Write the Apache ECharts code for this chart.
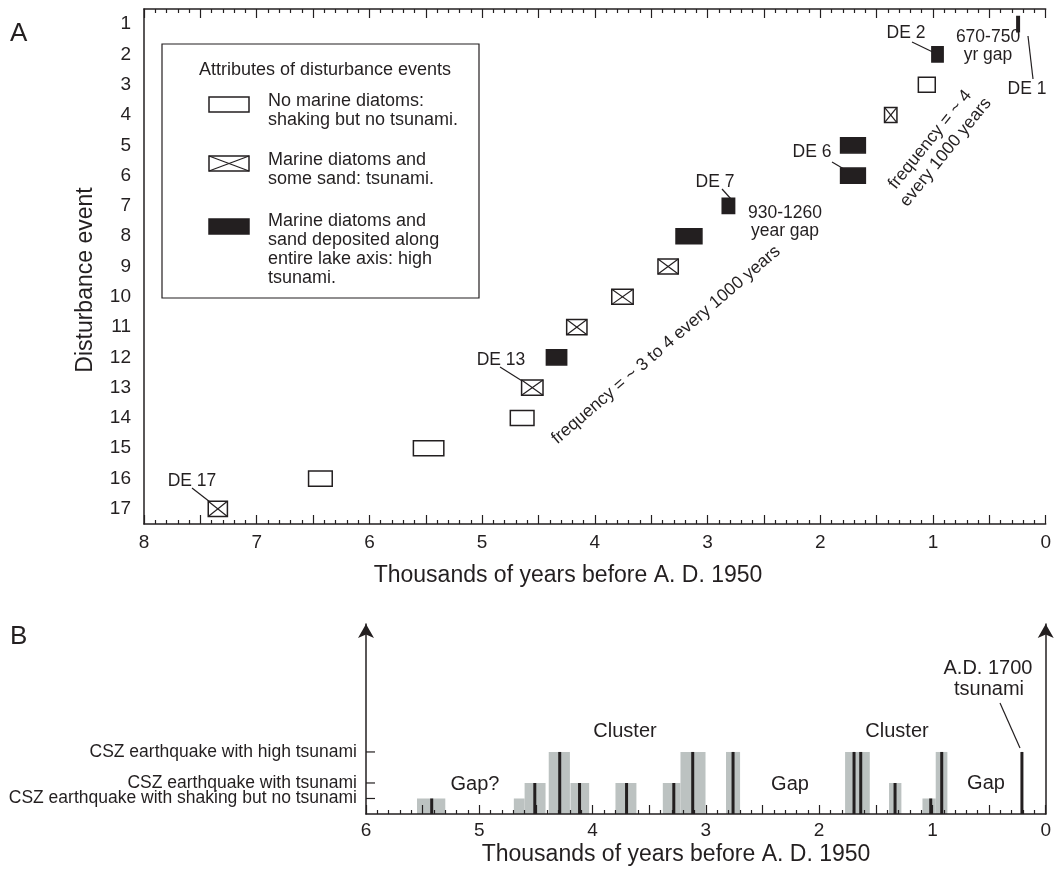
<!DOCTYPE html>
<html><head><meta charset="utf-8">
<script src="https://cdn.jsdelivr.net/npm/echarts@6/dist/echarts.min.js"></script>
<style>html,body{margin:0;padding:0;background:#fff}#c{width:1054px;height:870px}</style>
</head><body><div id="c"></div>
<script>
const FONT = '"Liberation Sans", Arial, Helvetica, sans-serif';
const INK = '#231f20';
const GRAY = '#bcc2c1';

// ---------- Panel A data ----------
const eventNumbers = [1,2,3,4,5,6,7,8,9,10,11,12,13,14,15,16,17];
const eventAgeStart = [0.234,0.91,0.98,1.32,1.60,1.60,2.76,3.05,3.26,3.66,4.07,4.25,4.46,4.54,5.34,6.33,7.26];
const eventAgeEnd   = [0.256,1.01,1.13,1.43,1.82,1.82,2.87,3.28,3.44,3.85,4.25,4.43,4.65,4.75,5.61,6.54,7.43];
// 0 = no marine diatoms (shaking, no tsunami), 1 = marine diatoms + some sand (tsunami), 2 = high tsunami
const eventClass    = [2,2,0,1,2,2,2,2,1,1,1,2,1,0,0,0,1];
const xTickLabelsA = [0,1,2,3,4,5,6,7,8];

// ---------- Panel B data ----------
const rangeStart = [5.30,4.60,4.415,4.20,4.03,3.613,3.224,3.003,2.698,1.553,1.274,0.971,0.868];
const rangeEnd   = [5.55,4.695,4.60,4.387,4.195,3.798,3.38,3.224,2.822,1.771,1.383,1.088,0.971];
const rangeLevel = [1,1,2,4,2,2,2,4,4,4,2,1,4];
const quakeAge   = [5.42,4.51,4.29,4.115,3.70,3.283,3.116,2.76,1.692,1.633,1.33,1.015,0.918,0.21];
const quakeLevel = [1,2,4,2,2,2,4,4,4,4,2,1,4,4];
const levelValues = [1,2,4];
const levelLabels = ['CSZ earthquake with shaking but no tsunami','CSZ earthquake with tsunami','CSZ earthquake with high tsunami'];
const xTickLabelsB = [0,1,2,3,4,5,6];

const eventData = eventNumbers.map((n,i)=>[eventAgeStart[i], eventAgeEnd[i], n, eventClass[i]]);
const rangeData = rangeStart.map((s,i)=>[s, rangeEnd[i], rangeLevel[i]]);
const quakeData = quakeAge.map((a,i)=>[a, quakeLevel[i]]);
const levelData = levelValues.map((v,i)=>[6, v, i]);

const chart = echarts.init(document.getElementById('c'), null, {renderer:'canvas'});

function intLabel(list){ return v => (list.indexOf(Math.round(v*1000)/1000) >= 0 ? String(Math.round(v)) : ''); }

function renderEvent(params, api){
  const s = api.value(0), e = api.value(1), n = api.value(2), t = api.value(3);
  const p1 = api.coord([s, n]), p2 = api.coord([e, n]);
  const h = api.size([0, 0.5])[1];
  const x = Math.min(p1[0], p2[0]), w = Math.max(Math.abs(p1[0]-p2[0]), 2);
  const y = p1[1] - h/2;
  const children = [{
    type:'rect', shape:{x:x, y:y, width:w, height:h},
    style:{fill: t===2 ? INK : '#fff', stroke: INK, lineWidth: 1.5}
  }];
  if (t === 1) {
    children.push({type:'line', shape:{x1:x, y1:y, x2:x+w, y2:y+h}, style:{stroke:INK, lineWidth:1.2}});
    children.push({type:'line', shape:{x1:x, y1:y+h, x2:x+w, y2:y}, style:{stroke:INK, lineWidth:1.2}});
  }
  return {type:'group', children};
}
function renderRange(params, api){
  const p0 = api.coord([api.value(0), 0]);
  const p1 = api.coord([api.value(1), api.value(2)]);
  return {type:'rect', shape:{x:Math.min(p0[0],p1[0]), y:p1[1], width:Math.abs(p1[0]-p0[0]), height:p0[1]-p1[1]}, style:{fill:GRAY}};
}
function renderQuake(params, api){
  const p0 = api.coord([api.value(0), 0]);
  const p1 = api.coord([api.value(0), api.value(1)]);
  return {type:'line', shape:{x1:p0[0], y1:p0[1], x2:p1[0], y2:p1[1]}, style:{stroke:INK, lineWidth:3}};
}
function renderLevel(params, api){
  const p = api.coord([api.value(0), api.value(1)]);
  const label = levelLabels[api.value(2)];
  return {type:'group', children:[
    {type:'line', shape:{x1:p[0], y1:p[1], x2:p[0]+9, y2:p[1]}, style:{stroke:INK, lineWidth:1.2}},
    {type:'text', x:p[0]-9, y:p[1], style:{text:label, font:'17.5px '+FONT, fill:INK, textAlign:'right', textVerticalAlign:'middle'}}
  ]};
}

const axLine = {show:true, onZero:false, lineStyle:{color:INK, width:1.5}};
function txt(x, y, text, size, align, extra){
  return Object.assign({type:'text', x:x, y:y, style:{text:text, font: size+'px '+FONT, fill:INK, textAlign:align||'center', textVerticalAlign:'middle'}}, extra||{});
}
function ln(x1,y1,x2,y2,w){
  return {type:'line', shape:{x1,y1,x2,y2}, style:{stroke:INK, lineWidth:w||1.2}};
}

const graphics = [
  txt(10, 34, 'A', 26, 'left'),
  txt(10, 637, 'B', 26, 'left'),
  txt(568, 576, 'Thousands of years before A. D. 1950', 23),
  txt(676, 855, 'Thousands of years before A. D. 1950', 23),
  txt(86, 280, 'Disturbance event', 23, 'center', {rotation: Math.PI/2}),
  // legend box
  {type:'rect', shape:{x:162, y:44, width:317, height:254}, style:{fill:'#fff', stroke:INK, lineWidth:1.2}},
  txt(325, 70, 'Attributes of disturbance events', 18),
  {type:'rect', shape:{x:209, y:97, width:40, height:15}, style:{fill:'#fff', stroke:INK, lineWidth:1.5}},
  txt(268, 101, 'No marine diatoms:', 18, 'left'),
  txt(268, 120, 'shaking but no tsunami.', 18, 'left'),
  {type:'rect', shape:{x:209, y:156, width:40, height:15}, style:{fill:'#fff', stroke:INK, lineWidth:1.5}},
  ln(209,156,249,171,1.2), ln(209,171,249,156,1.2),
  txt(268, 160, 'Marine diatoms and', 18, 'left'),
  txt(268, 179, 'some sand: tsunami.', 18, 'left'),
  {type:'rect', shape:{x:209, y:219, width:40, height:15}, style:{fill:INK, stroke:INK, lineWidth:1.5}},
  txt(268, 221, 'Marine diatoms and', 18, 'left'),
  txt(268, 240, 'sand deposited along', 18, 'left'),
  txt(268, 259, 'entire lake axis: high', 18, 'left'),
  txt(268, 278, 'tsunami.', 18, 'left'),
  // annotations panel A
  txt(192, 481, 'DE 17', 17.5), ln(192,488,210,502),
  txt(501, 360, 'DE 13', 17.5), ln(500,367,527,384),
  txt(715, 182, 'DE 7', 17.5), ln(722,189,731,199),
  txt(785, 213, '930-1260', 17.5), txt(785, 231, 'year gap', 17.5),
  txt(812, 152, 'DE 6', 17.5), ln(832,162,849,172),
  txt(906, 33, 'DE 2', 17.5), ln(912,42,941,56),
  txt(988, 37, '670-750', 17.5), txt(988, 55, 'yr gap', 17.5),
  txt(1027, 89, 'DE 1', 17.5), ln(1028,36,1033,79),
  txt(666, 345, 'frequency = ~ 3 to 4 every 1000 years', 17.5, 'center', {rotation: 40.6*Math.PI/180}),
  txt(938, 146, 'frequency = ~ 4\nevery 1000 years', 17.5, 'center', {rotation: 51*Math.PI/180, style:{text:'frequency = ~ 4\nevery 1000 years', font:'17.5px '+FONT, fill:INK, textAlign:'center', textVerticalAlign:'middle', lineHeight:20}}),
  // annotations panel B
  txt(475, 784, 'Gap?', 20),
  txt(625, 731, 'Cluster', 20),
  txt(790, 784, 'Gap', 20),
  txt(897, 731, 'Cluster', 20),
  txt(986, 783, 'Gap', 20),
  txt(988, 668, 'A.D. 1700', 20),
  txt(989, 689, 'tsunami', 20),
  ln(1000,703,1020,748)
];

const option = {
  animation:false,
  backgroundColor:'#fff',
  textStyle:{fontFamily:FONT, color:INK},
  grid:[
    {left:144, right:-2, top:9, bottom:346, containLabel:false},
    {left:366, right:5, top:624, bottom:56, containLabel:false}
  ],
  xAxis:[
    {gridIndex:0, type:'value', min:0, max:8, interval:0.5, inverse:true, position:'bottom',
     axisLine:axLine, axisTick:{show:true, inside:true, length:9, lineStyle:{color:INK, width:1.2}},
     minorTick:{show:true, splitNumber:5, length:4, lineStyle:{color:INK, width:1.2}},
     axisLabel:{formatter:intLabel(xTickLabelsA), fontSize:19, color:INK, margin:9, fontFamily:FONT},
     splitLine:{show:false}},
    {gridIndex:0, type:'value', min:0, max:8, interval:0.5, inverse:true, position:'top',
     axisLine:axLine, axisTick:{show:true, inside:true, length:9, lineStyle:{color:INK, width:1.2}},
     minorTick:{show:true, splitNumber:5, length:4, lineStyle:{color:INK, width:1.2}},
     axisLabel:{show:false}, splitLine:{show:false}},
    {gridIndex:1, type:'value', min:0, max:6, interval:0.5, inverse:true, position:'bottom', z:10,
     axisLine:axLine, axisTick:{show:true, inside:true, length:9, lineStyle:{color:INK, width:1.2}},
     minorTick:{show:true, splitNumber:5, length:4, lineStyle:{color:INK, width:1.2}},
     axisLabel:{formatter:intLabel(xTickLabelsB), fontSize:19, color:INK, margin:7, fontFamily:FONT},
     splitLine:{show:false}}
  ],
  yAxis:[
    {gridIndex:0, type:'value', min:0.5, max:17.5, inverse:true, position:'left',
     axisLine:axLine, axisTick:{show:false}, splitLine:{show:false},
     axisLabel:{customValues:eventNumbers, fontSize:19, color:INK, margin:13, fontFamily:FONT}},
    {gridIndex:1, type:'value', min:0, max:12.25, position:'left', z:10,
     axisLine:{show:true, onZero:false, symbol:['none','arrow'], symbolSize:[12,14], lineStyle:{color:INK, width:1.5}},
     axisTick:{show:false}, axisLabel:{show:false}, splitLine:{show:false}},
    {gridIndex:1, type:'value', min:0, max:12.25, position:'right',
     axisLine:{show:true, onZero:false, symbol:['none','arrow'], symbolSize:[12,14], lineStyle:{color:INK, width:1.5}},
     axisTick:{show:false}, axisLabel:{show:false}, splitLine:{show:false}}
  ],
  series:[
    {type:'custom', name:'Disturbance events', xAxisIndex:0, yAxisIndex:0, renderItem:renderEvent,
     encode:{x:[0,1], y:2}, data:eventData, clip:false, z:3},
    {type:'custom', name:'Age ranges', xAxisIndex:2, yAxisIndex:1, renderItem:renderRange,
     encode:{x:[0,1], y:2}, data:rangeData, z:2},
    {type:'custom', name:'Earthquakes', xAxisIndex:2, yAxisIndex:1, renderItem:renderQuake,
     encode:{x:0, y:1}, data:quakeData, z:3},
    {type:'custom', name:'Levels', xAxisIndex:2, yAxisIndex:1, renderItem:renderLevel,
     encode:{x:0, y:1}, data:levelData, clip:false, z:4}
  ],
  graphic: graphics
};
chart.setOption(option);
</script></body></html>
